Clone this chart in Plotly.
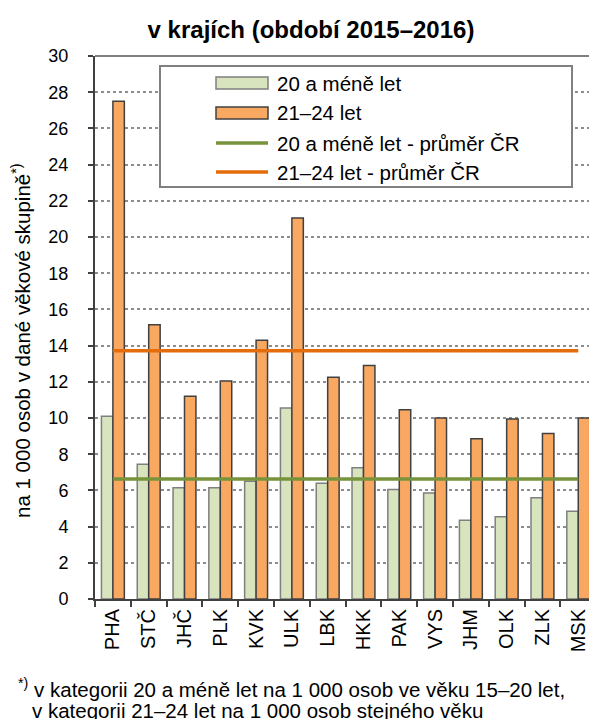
import plotly.graph_objects as go

categories = ["PHA", "STČ", "JHČ", "PLK", "KVK", "ULK", "LBK", "HKK", "PAK", "VYS", "JHM", "OLK", "ZLK", "MSK"]
vals_20 = [10.1, 7.45, 6.15, 6.15, 6.5, 10.55, 6.4, 7.25, 6.05, 5.85, 4.35, 4.55, 5.6, 4.85]
vals_21_24 = [27.5, 15.15, 11.2, 12.05, 14.3, 21.05, 12.25, 12.9, 10.45, 10.0, 8.85, 9.95, 9.15, 10.0]
avg_20 = 6.63
avg_21_24 = 13.72
y_ticks = list(range(0, 31, 2))

names = ["20 a méně let", "21–24 let", "20 a méně let - průměr ČR", "21–24 let - průměr ČR"]

FONT = "Liberation Sans, Arial, sans-serif"
GREEN_FILL = "#D7E4BD"
ORANGE_FILL = "#F9A862"
GREEN_LINE = "#77933C"
ORANGE_LINE = "#E46C0A"

W, H = 589, 719
L, T, R, B = 95, 56, 589, 599


def px(x):
    return (x - L) / (R - L)


def py(y):
    return (B - y) / (B - T)


fig = go.Figure()
fig.add_trace(go.Bar(x=categories, y=vals_20, name=names[0], marker=dict(color=GREEN_FILL, line=dict(color="#7F7F7F", width=1.5))))
fig.add_trace(go.Bar(x=categories, y=vals_21_24, name=names[1], marker=dict(color=ORANGE_FILL, line=dict(color="#404040", width=1.5))))
fig.add_trace(go.Scatter(x=[categories[0], categories[-1]], y=[avg_20, avg_20], mode="lines", name=names[2], line=dict(color=GREEN_LINE, width=3.5)))
fig.add_trace(go.Scatter(x=[categories[0], categories[-1]], y=[avg_21_24, avg_21_24], mode="lines", name=names[3], line=dict(color=ORANGE_LINE, width=3.5)))

shapes = []
annotations = []
# top border
shapes.append(dict(type="line", xref="paper", yref="paper", x0=0, x1=1, y0=1, y1=1, line=dict(color="#808080", width=2), layer="above"))
# manual legend
shapes.append(dict(type="rect", xref="paper", yref="paper", x0=px(160), x1=px(572), y0=py(66), y1=py(187),
                   fillcolor="white", line=dict(color="#808080", width=2), layer="above"))
rows = [83, 113, 143, 172]
shapes.append(dict(type="rect", xref="paper", yref="paper", x0=px(216), x1=px(268), y0=py(rows[0] - 6), y1=py(rows[0] + 6),
                   fillcolor=GREEN_FILL, line=dict(color="#7F7F7F", width=1.5), layer="above"))
shapes.append(dict(type="rect", xref="paper", yref="paper", x0=px(216), x1=px(268), y0=py(rows[1] - 6), y1=py(rows[1] + 6),
                   fillcolor=ORANGE_FILL, line=dict(color="#404040", width=1.5), layer="above"))
shapes.append(dict(type="line", xref="paper", yref="paper", x0=px(216), x1=px(268), y0=py(rows[2]), y1=py(rows[2]),
                   line=dict(color=GREEN_LINE, width=3.5), layer="above"))
shapes.append(dict(type="line", xref="paper", yref="paper", x0=px(216), x1=px(268), y0=py(rows[3]), y1=py(rows[3]),
                   line=dict(color=ORANGE_LINE, width=3.5), layer="above"))
for name, r in zip(names, rows):
    annotations.append(dict(text=name, xref="paper", yref="paper", x=px(275), y=py(r), xanchor="left", yanchor="middle",
                            showarrow=False, font=dict(family=FONT, size=20.5, color="black")))

# y axis title
annotations.append(dict(text="na 1 000 osob v dané věkové skupině<sup>*)</sup>", xref="paper", yref="paper",
                        x=px(21), y=py(341), xanchor="center", yanchor="middle", textangle=-90, showarrow=False,
                        font=dict(family=FONT, size=20.5, color="black")))

# footnote
annotations.append(dict(text="<sup>*)</sup> v kategorii 20 a méně let na 1 000 osob ve věku 15–20 let,", xref="paper", yref="paper",
                        x=px(16), y=py(688), xanchor="left", yanchor="middle", showarrow=False,
                        font=dict(family=FONT, size=20.5, color="black")))
annotations.append(dict(text="v kategorii 21–24 let na 1 000 osob stejného věku", xref="paper", yref="paper",
                        x=px(30), y=py(710), xanchor="left", yanchor="middle", showarrow=False,
                        font=dict(family=FONT, size=20.5, color="black")))

fig.update_layout(
    width=W, height=H,
    margin=dict(l=L, r=W - R, t=T, b=H - B, pad=0),
    paper_bgcolor="white", plot_bgcolor="white",
    showlegend=False,
    barmode="group", bargap=0.36, bargroupgap=0,
    title=dict(text="<b>v krajích (období 2015–2016)</b>", x=px(311), xanchor="center", xref="paper",
               y=1 - 30 / H, yanchor="middle", font=dict(family=FONT, size=24, color="black")),
    font=dict(family=FONT, size=18, color="black"),
    shapes=shapes,
    annotations=annotations,
    xaxis=dict(type="category", range=[-0.5, 13.3], showline=True, linecolor="#404040", linewidth=2,
               ticks="outside", tickson="boundaries", ticklen=6, tickcolor="#404040", tickwidth=2,
               tickangle=-90, tickfont=dict(family=FONT, size=20), showgrid=False),
    yaxis=dict(range=[0, 30], tickvals=y_ticks, showline=True, linecolor="#404040", linewidth=2,
               ticks="outside", ticklen=5, tickcolor="#404040", tickwidth=2, ticklabelstandoff=16,
               showgrid=True, gridcolor="#8C8C8C", griddash="dot", gridwidth=1.5,
               tickfont=dict(family=FONT, size=18), zeroline=False),
)

fig.write_html("out.html", config={"displayModeBar": False},
               post_script="document.body.style.margin='0px';document.body.style.padding='0px';")
